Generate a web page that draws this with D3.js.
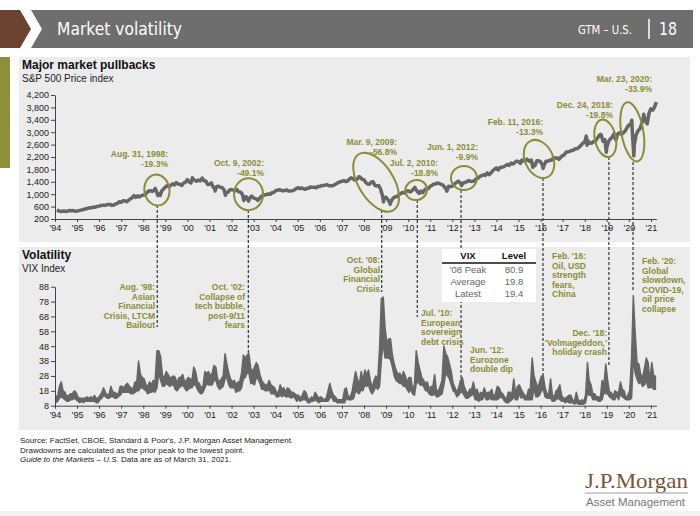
<!DOCTYPE html>
<html>
<head>
<meta charset="utf-8">
<script src="https://cdn.jsdelivr.net/npm/d3@7"></script>
<style>
html, body { margin: 0; padding: 0; background: #fff; }
svg { display: block; font-family: "Liberation Sans", Arial, sans-serif; }
</style>
</head>
<body>
<svg id="chart" width="700" height="516"></svg>
<script>
// ---- data ----
const tickYears = d3.range(1994, 2022);
const spTicks = d3.range(200, 4201, 400);
const vixTicks = d3.range(8, 89, 10);

// S&P 500 month-end levels, Jan 1994 .. Mar 2021
const spMonthly = [
  481, 467, 445, 450, 456, 444, 458, 475, 462, 472, 453, 459,
  470, 487, 500, 514, 533, 544, 562, 561, 584, 581, 605, 615,
  636, 640, 645, 654, 669, 670, 639, 651, 687, 705, 757, 740,
  786, 790, 757, 801, 848, 885, 954, 899, 947, 914, 955, 970,
  980, 1049, 1101, 1111, 1090, 1133, 1120, 957, 1017, 1098, 1163, 1229,
  1279, 1238, 1286, 1335, 1301, 1372, 1328, 1320, 1282, 1362, 1388, 1469,
  1394, 1366, 1498, 1452, 1420, 1454, 1430, 1517, 1436, 1429, 1315, 1320,
  1366, 1240, 1160, 1249, 1256, 1224, 1211, 1133, 1040, 1059, 1139, 1148,
  1130, 1106, 1147, 1076, 1067, 989, 911, 916, 815, 885, 936, 879,
  855, 841, 848, 916, 963, 974, 990, 1008, 995, 1050, 1058, 1111,
  1131, 1144, 1126, 1107, 1120, 1140, 1101, 1104, 1114, 1130, 1173, 1211,
  1181, 1203, 1180, 1156, 1191, 1191, 1234, 1220, 1228, 1207, 1249, 1248,
  1280, 1280, 1294, 1310, 1270, 1270, 1276, 1303, 1335, 1377, 1400, 1418,
  1438, 1406, 1420, 1482, 1530, 1503, 1455, 1473, 1526, 1549, 1481, 1468,
  1378, 1330, 1322, 1385, 1400, 1280, 1267, 1282, 1166, 968, 896, 903,
  825, 735, 797, 872, 919, 919, 987, 1020, 1057, 1036, 1095, 1115,
  1073, 1104, 1169, 1186, 1089, 1030, 1101, 1049, 1141, 1183, 1180, 1257,
  1286, 1327, 1325, 1363, 1345, 1320, 1292, 1218, 1131, 1253, 1246, 1257,
  1312, 1365, 1408, 1397, 1310, 1362, 1379, 1406, 1440, 1412, 1416, 1426,
  1498, 1514, 1569, 1597, 1630, 1606, 1685, 1632, 1681, 1756, 1805, 1848,
  1782, 1859, 1872, 1883, 1923, 1960, 1930, 2003, 1972, 2018, 2067, 2059,
  1995, 2104, 2068, 2085, 2107, 2063, 2104, 1972, 1920, 2079, 2080, 2044,
  1940, 1932, 2060, 2065, 2097, 2099, 2174, 2171, 2168, 2126, 2199, 2239,
  2279, 2364, 2363, 2384, 2412, 2423, 2470, 2472, 2519, 2575, 2648, 2674,
  2824, 2714, 2641, 2648, 2705, 2718, 2816, 2902, 2914, 2712, 2760, 2507,
  2704, 2784, 2834, 2946, 2752, 2942, 2980, 2926, 2977, 3038, 3141, 3231,
  3226, 2954, 2585, 2912, 3044, 3100, 3271, 3500, 3363, 3270, 3622, 3756,
  3714, 3811, 3973
];

// intra-month peaks and troughs
const spExtremeDates = ["1998-07-17", "1998-10-08", "2000-03-24", "2000-09-01", "2001-04-04", "2001-09-21",
  "2002-07-23", "2002-10-09", "2003-03-11", "2007-10-09", "2008-11-20", "2009-03-09", "2010-04-23",
  "2010-07-02", "2011-04-29", "2011-10-03", "2012-04-02", "2012-06-01", "2015-05-21", "2015-08-25",
  "2016-02-11", "2018-01-26", "2018-02-08", "2018-09-20", "2018-12-24", "2020-02-19", "2020-03-23", "2020-09-02"];
const spExtremeValues = [1187, 960, 1527, 1520, 1103, 965,
  797, 776, 800, 1565, 752, 677, 1217,
  1022, 1364, 1099, 1419, 1278, 2131, 1868,
  1829, 2873, 2581, 2931, 2351, 3386, 2237, 3580];

// VIX monthly high / low, Jan 1994 .. Mar 2021
const vixHigh = [
  14, 15, 21, 24, 18, 17, 14, 15, 16, 16, 18, 17,
  14, 13, 13, 13, 13, 14, 13, 14, 13, 15, 13, 13,
  15, 17, 20, 17, 15, 16, 21, 17, 17, 16, 16, 21,
  21, 20, 22, 23, 21, 20, 19, 24, 24, 38, 29, 27,
  26, 22, 21, 24, 22, 25, 24, 45, 45, 41, 28, 27,
  31, 29, 27, 27, 28, 27, 23, 27, 27, 29, 24, 25,
  27, 26, 25, 34, 31, 24, 23, 20, 21, 31, 30, 31,
  28, 30, 35, 34, 26, 24, 26, 28, 43, 36, 30, 26,
  24, 25, 22, 24, 24, 30, 42, 40, 42, 43, 33, 31,
  34, 37, 35, 29, 25, 23, 22, 22, 25, 22, 21, 20,
  17, 17, 22, 19, 20, 17, 20, 19, 17, 17, 16, 15,
  15, 13, 15, 18, 17, 13, 12, 14, 13, 17, 15, 13,
  14, 13, 12, 13, 18, 23, 18, 15, 14, 12, 12, 12,
  12, 19, 20, 14, 14, 17, 24, 31, 26, 22, 31, 25,
  32, 29, 32, 25, 20, 25, 28, 25, 47, 80, 81, 60,
  50, 53, 53, 42, 36, 32, 29, 30, 27, 31, 28, 24,
  27, 27, 19, 22, 45, 37, 32, 27, 25, 23, 24, 19,
  21, 21, 29, 18, 18, 21, 25, 48, 43, 41, 36, 31,
  23, 20, 17, 20, 25, 27, 21, 18, 16, 19, 19, 24,
  18, 19, 15, 17, 16, 20, 16, 17, 17, 19, 14, 16,
  21, 20, 17, 16, 14, 12, 17, 17, 16, 26, 16, 21,
  22, 19, 17, 15, 14, 19, 19, 40, 28, 24, 20, 24,
  28, 28, 20, 16, 16, 26, 15, 14, 18, 19, 22, 15,
  13, 13, 14, 15, 15, 12, 11, 17, 12, 11, 12, 11,
  15, 37, 25, 22, 16, 16, 14, 14, 13, 25, 22, 36,
  25, 17, 17, 14, 18, 17, 17, 24, 19, 18, 13, 15,
  18, 40, 82, 57, 37, 36, 29, 27, 33, 40, 37, 25,
  37, 28, 28
];
const vixLow = [
  10, 11, 13, 14, 13, 12, 11, 11, 12, 12, 13, 12,
  11, 10, 11, 10, 11, 11, 11, 11, 11, 11, 10, 10,
  12, 13, 15, 14, 13, 13, 14, 14, 13, 13, 14, 15,
  17, 17, 17, 17, 17, 16, 16, 17, 18, 18, 20, 20,
  19, 18, 16, 17, 17, 18, 17, 20, 30, 25, 21, 21,
  23, 22, 21, 22, 22, 19, 18, 20, 21, 22, 20, 18,
  19, 20, 20, 22, 22, 19, 17, 16, 17, 20, 23, 22,
  22, 22, 25, 25, 21, 19, 20, 21, 26, 27, 22, 20,
  20, 20, 17, 18, 18, 20, 26, 27, 30, 30, 23, 23,
  22, 27, 26, 23, 19, 19, 18, 18, 19, 16, 16, 16,
  14, 14, 15, 14, 15, 14, 14, 14, 13, 14, 13, 11,
  12, 11, 12, 12, 12, 10, 10, 11, 11, 12, 11, 10,
  11, 11, 11, 11, 11, 13, 14, 11, 11, 10, 10, 10,
  10, 10, 13, 12, 12, 12, 13, 18, 17, 16, 19, 18,
  22, 21, 22, 18, 16, 18, 21, 19, 21, 39, 50, 40,
  40, 40, 39, 34, 28, 25, 24, 23, 23, 21, 21, 19,
  17, 19, 16, 15, 23, 24, 22, 22, 21, 18, 18, 16,
  15, 15, 16, 14, 14, 15, 16, 22, 30, 28, 26, 22,
  18, 17, 14, 15, 17, 17, 15, 13, 13, 14, 15, 16,
  12, 12, 11, 12, 12, 15, 12, 12, 13, 12, 12, 12,
  12, 13, 14, 13, 11, 10, 10, 11, 12, 14, 12, 12,
  16, 13, 14, 12, 12, 12, 12, 12, 20, 14, 14, 15,
  18, 19, 14, 13, 13, 13, 11, 11, 12, 13, 12, 11,
  11, 10, 11, 10, 10, 10, 9, 10, 9, 9, 9, 9,
  10, 17, 15, 15, 12, 12, 12, 11, 11, 12, 17, 16,
  16, 14, 13, 12, 12, 15, 12, 16, 14, 13, 12, 12,
  12, 13, 40, 30, 26, 23, 24, 21, 22, 25, 20, 20,
  21, 19, 19
];

const vixTableRows = ["'08 Peak", "Average", "Latest"];
const vixTableLevels = ["80.9", "19.8", "19.4"];

const pullbackDates = ["1998-08-31", "2002-10-09", "2009-03-09", "2010-07-02", "2012-06-01", "2016-02-11", "2018-12-24", "2020-03-23"];
const pullbackLows = [957, 776, 677, 1022, 1278, 1829, 2351, 2237];
const pullbackNames = ["Aug. 31, 1998:", "Oct. 9, 2002:", "Mar. 9, 2009:", "Jul. 2, 2010:", "Jun. 1, 2012:", "Feb. 11, 2016:", "Dec. 24, 2018:", "Mar. 23, 2020:"];
const pullbackDrops = ["-19.3%", "-49.1%", "-56.8%", "-18.8%", "-9.9%", "-13.3%", "-19.8%", "-33.9%"];

const vixEventDates = ["1998-08-20", "2002-10-05", "2008-10-20", "2010-06-01", "2012-05-25", "2016-02-10", "2019-02-05", "2020-03-10"];
const vixEventText = [
  ["Aug. '98:", "Asian", "Financial", "Crisis, LTCM", "Bailout"],
  ["Oct. '02:", "Collapse of", "tech bubble,", "post-9/11", "fears"],
  ["Oct. '08:", "Global", "Financial", "Crisis"],
  ["Jul. '10:", "European", "sovereign", "debt crisis"],
  ["Jun. '12:", "Eurozone", "double dip"],
  ["Feb. '16:", "Oil, USD", "strength", "fears,", "China"],
  ["Dec. '18:", "'Volmageddon,'", "holiday crash"],
  ["Feb. '20:", "Global", "slowdown,", "COVID-19,", "oil price", "collapse"]
];

// ---- layout (annotation placement only) ----
const ellipseLayout = [
  { dx: -1, dy: -5.5, rx: 12.5, ry: 15.5, rot: -8, lx: 168, ly: 157 },
  { dx: 0, dy: -7, rx: 14.5, ry: 16, rot: 0, lx: 264, ly: 166 },
  { dx: -14, dy: -22, rx: 17.5, ry: 33, rot: -32, lx: 397, ly: 145 },
  { dx: -3, dy: -3.5, rx: 11, ry: 10, rot: -15, lx: 438, ly: 166 },
  { dx: 2.5, dy: -7.5, rx: 13, ry: 12, rot: 0, lx: 478, ly: 150 },
  { dx: -4, dy: -9.5, rx: 14, ry: 20, rot: -25, lx: 543, ly: 125 },
  { dx: -1, dy: -14, rx: 10.5, ry: 19, rot: -12, lx: 613, ly: 108 },
  { dx: -1.5, dy: -24, rx: 11, ry: 30, rot: -10, lx: 652, ly: 82 }
];
const eventLayout = [
  { y0: 205, y1: 327, anchor: "end", tx: 155, ty: 290 },
  { y0: 210, y1: 353, anchor: "end", tx: 245, ty: 290 },
  { y0: 210, y1: 292, anchor: "end", tx: 380, ty: 263 },
  { y0: 200, y1: 317, anchor: "start", tx: 421, ty: 316 },
  { y0: 190, y1: 380, anchor: "start", tx: 470, ty: 353 },
  { y0: 178, y1: 385, anchor: "start", tx: 552, ty: 259 },
  { y0: 157, y1: 365, anchor: "end", tx: 607, ty: 336 },
  { y0: 162, y1: 292, anchor: "start", tx: 642, ty: 264 }
];

const olive = "#8b8d33";
const lineGray = "#666";
const parse = d3.timeParse("%Y-%m-%d");

const svg = d3.select("#chart");

// ---- header ----
svg.append("polygon").attr("points", "0,10 20,10 31,29 20,48 0,48").attr("fill", "#6b4330");
svg.append("polygon").attr("points", "31,10 693,10 693,48 31,48 42,29").attr("fill", "#6e6e6e");
const headFont = "'Liberation Sans Narrow','DejaVu Sans Condensed','Arial Narrow',sans-serif";
svg.append("text").attr("x", 57).attr("y", 35).attr("fill", "#fff")
  .attr("font-family", headFont).attr("font-size", 17)
  .attr("textLength", 125).attr("lengthAdjust", "spacingAndGlyphs")
  .text("Market volatility");
svg.append("text").attr("x", 578).attr("y", 34).attr("fill", "#fff")
  .attr("font-family", headFont).attr("font-size", 13)
  .attr("textLength", 54).attr("lengthAdjust", "spacingAndGlyphs")
  .text("GTM – U.S.");
svg.append("line").attr("x1", 649).attr("x2", 649).attr("y1", 19).attr("y2", 39)
  .attr("stroke", "#fff").attr("stroke-width", 1.5);
svg.append("text").attr("x", 659).attr("y", 35).attr("fill", "#fff")
  .attr("font-family", headFont).attr("font-size", 17)
  .attr("textLength", 18).attr("lengthAdjust", "spacingAndGlyphs")
  .text("18");

// side tab and panels
svg.append("rect").attr("x", 0).attr("y", 57).attr("width", 10).attr("height", 111).attr("fill", "#8e8f3a");
svg.append("rect").attr("x", 19).attr("y", 57).attr("width", 671).attr("height", 185).attr("fill", "#ececec");
svg.append("rect").attr("x", 19).attr("y", 247).attr("width", 671).attr("height", 183).attr("fill", "#ececec");

// ---- scales ----
const x = d3.scaleTime()
  .domain([new Date(1994, 0, 1), new Date(2021, 3, 1)])
  .range([55, 55 + 27.25 * 22.07]);
const ySP = d3.scaleLinear().domain([200, 4200]).range([219, 95]);
const yVIX = d3.scaleLinear().domain([8, 88]).range([405.7, 286.7]);

// titles
svg.append("text").attr("x", 22).attr("y", 69).attr("font-size", 12).attr("font-weight", "bold")
  .attr("fill", "#111").text("Major market pullbacks");
svg.append("text").attr("x", 22).attr("y", 82).attr("font-size", 10)
  .attr("fill", "#222").text("S&P 500 Price index");
svg.append("text").attr("x", 22).attr("y", 259).attr("font-size", 12).attr("font-weight", "bold")
  .attr("fill", "#111").text("Volatility");
svg.append("text").attr("x", 22).attr("y", 272).attr("font-size", 10)
  .attr("fill", "#222").text("VIX Index");

// ---- dashed connectors ----
const connectors = svg.append("g");
vixEventDates.forEach((d, i) => {
  const L = eventLayout[i];
  connectors.append("line")
    .attr("x1", x(parse(d))).attr("x2", x(parse(d)))
    .attr("y1", L.y0).attr("y2", L.y1)
    .attr("stroke", "#333").attr("stroke-width", 1.2)
    .attr("stroke-dasharray", "3,2");
});

// ---- S&P line ----
const spPoints = spMonthly.map((v, i) => ({ date: new Date(1994, i + 1, 0), value: v }))
  .concat(spExtremeDates.map((d, i) => ({ date: parse(d), value: spExtremeValues[i] })))
  .sort((a, b) => a.date - b.date);

svg.append("path")
  .datum(spPoints)
  .attr("fill", "none")
  .attr("stroke", lineGray)
  .attr("stroke-width", 3.5)
  .attr("stroke-linejoin", "round")
  .attr("d", d3.line().x(d => x(d.date)).y(d => ySP(d.value)));

// ---- VIX band ----
const vixPoints = vixHigh.map((h, i) => ({ date: new Date(1994, i, 15), hi: h, lo: vixLow[i] }));
svg.append("path")
  .datum(vixPoints)
  .attr("fill", lineGray)
  .attr("stroke", lineGray)
  .attr("stroke-width", 1.5)
  .attr("stroke-linejoin", "round")
  .attr("d", d3.area().x(d => x(d.date)).y0(d => yVIX(d.lo)).y1(d => yVIX(d.hi)));

// ---- axes ----
function styleAxis(g) {
  g.selectAll("path, line").attr("stroke", "#444");
  g.selectAll("text").attr("fill", "#222").attr("font-size", 9)
    .attr("font-family", "'Liberation Sans', Arial, sans-serif");
}
const xAxis = d3.axisBottom(x)
  .tickValues(tickYears.map(yr => new Date(yr, 0, 1)))
  .tickFormat(d3.timeFormat("'%y"))
  .tickSize(3).tickSizeOuter(0).tickPadding(3);

svg.append("g").attr("transform", "translate(0,219)").call(xAxis).call(styleAxis);
svg.append("g").attr("transform", "translate(55,0)")
  .call(d3.axisLeft(ySP).tickValues(spTicks).tickFormat(d3.format(",")).tickSize(4).tickSizeOuter(0).tickPadding(2))
  .call(styleAxis);

svg.append("g").attr("transform", "translate(0,405.7)").call(xAxis).call(styleAxis);
svg.append("g").attr("transform", "translate(55,0)")
  .call(d3.axisLeft(yVIX).tickValues(vixTicks).tickSize(4).tickSizeOuter(0).tickPadding(2))
  .call(styleAxis);

// ---- pullback ellipses and labels ----
pullbackDates.forEach((d, i) => {
  const L = ellipseLayout[i];
  const cx = x(parse(d)) + L.dx;
  const cy = ySP(pullbackLows[i]) + L.dy;
  svg.append("ellipse")
    .attr("transform", `translate(${cx},${cy}) rotate(${L.rot})`)
    .attr("rx", L.rx).attr("ry", L.ry)
    .attr("fill", "none").attr("stroke", olive).attr("stroke-width", 2);
  const t = svg.append("text")
    .attr("text-anchor", "end").attr("font-size", 8.5).attr("font-weight", "bold").attr("fill", olive);
  [pullbackNames[i], pullbackDrops[i]].forEach((s, k) => {
    t.append("tspan").attr("x", L.lx).attr("y", L.ly + k * 9.5).text(s);
  });
});

// ---- VIX event labels ----
vixEventText.forEach((lines, i) => {
  const L = eventLayout[i];
  const t = svg.append("text")
    .attr("text-anchor", L.anchor).attr("font-size", 8.5).attr("font-weight", "bold").attr("fill", olive);
  lines.forEach((s, k) => {
    t.append("tspan").attr("x", L.tx).attr("y", L.ty + k * 9.5).text(s);
  });
});

// ---- VIX table ----
const tbl = svg.append("g");
tbl.append("rect").attr("x", 442).attr("y", 249).attr("width", 94).attr("height", 53).attr("fill", "#fff");
tbl.append("text").attr("x", 468).attr("y", 259).attr("text-anchor", "middle")
  .attr("font-size", 9.5).attr("font-weight", "bold").attr("fill", "#111").text("VIX");
tbl.append("text").attr("x", 514).attr("y", 259).attr("text-anchor", "middle")
  .attr("font-size", 9.5).attr("font-weight", "bold").attr("fill", "#111").text("Level");
tbl.append("line").attr("x1", 442).attr("x2", 536).attr("y1", 263).attr("y2", 263)
  .attr("stroke", "#111").attr("stroke-width", 1.5);
vixTableRows.forEach((r, i) => {
  tbl.append("text").attr("x", 468).attr("y", 273 + i * 11.8).attr("text-anchor", "middle")
    .attr("font-size", 9.5).attr("fill", "#666").text(r);
  tbl.append("text").attr("x", 514).attr("y", 273 + i * 11.8).attr("text-anchor", "middle")
    .attr("font-size", 9.5).attr("fill", "#666").text(vixTableLevels[i]);
});

// ---- footer ----
const foot = svg.append("text").attr("font-size", 8).attr("fill", "#222");
foot.append("tspan").attr("x", 20).attr("y", 443)
  .text("Source: FactSet, CBOE, Standard & Poor's, J.P. Morgan Asset Management.");
foot.append("tspan").attr("x", 20).attr("y", 452.5)
  .text("Drawdowns are calculated as the prior peak to the lowest point.");
const l3 = foot.append("tspan").attr("x", 20).attr("y", 462);
l3.append("tspan").attr("font-style", "italic").text("Guide to the Markets – U.S.");
l3.append("tspan").text(" Data are as of March 31, 2021.");

// logo
svg.append("text").attr("x", 585).attr("y", 488)
  .attr("font-family", "'Liberation Serif','DejaVu Serif',serif").attr("font-size", 22)
  .attr("fill", "#7a5535").attr("textLength", 103).attr("lengthAdjust", "spacingAndGlyphs")
  .text("J.P.Morgan");
svg.append("line").attr("x1", 585).attr("x2", 688).attr("y1", 493).attr("y2", 493)
  .attr("stroke", "#9a9a9a").attr("stroke-width", 1);
svg.append("text").attr("x", 586).attr("y", 506)
  .attr("font-size", 11).attr("fill", "#777")
  .attr("textLength", 99).attr("lengthAdjust", "spacingAndGlyphs")
  .text("Asset Management");
svg.append("rect").attr("x", 0).attr("y", 511).attr("width", 700).attr("height", 5).attr("fill", "#f1f1f1");
</script>
</body>
</html>
